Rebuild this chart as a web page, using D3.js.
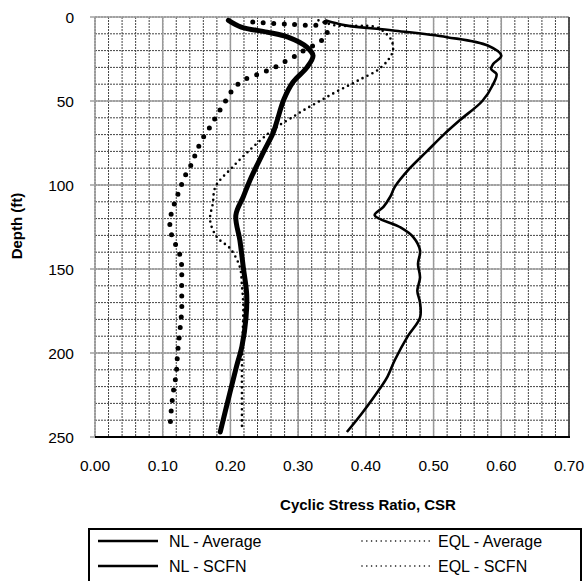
<!DOCTYPE html>
<html>
<head>
<meta charset="utf-8">
<script src="https://cdn.jsdelivr.net/npm/d3@7"></script>
<style>
  body { margin: 0; background: #fff; }
  text { font-family: "Liberation Sans", Arial, sans-serif; }
</style>
</head>
<body>
<div id="chart-area"></div>
<script>
// Datos (profundidad en ft, CSR)
var nlAvgDepth = [2, 5, 8, 12, 17, 23, 28, 31, 34, 40, 50, 61, 70, 80, 90, 101, 107, 113, 118, 125, 131, 139, 147, 155, 163, 170, 179, 190, 204, 214, 221, 236, 247];
var nlAvgCsr   = [0.34, 0.37, 0.44, 0.52, 0.58, 0.60, 0.588, 0.585, 0.593, 0.588, 0.572, 0.54, 0.515, 0.49, 0.465, 0.443, 0.436, 0.426, 0.413, 0.45, 0.47, 0.48, 0.477, 0.48, 0.476, 0.48, 0.48, 0.462, 0.443, 0.432, 0.421, 0.394, 0.372];

var nlScfnDepth = [2, 6, 9, 12, 18, 23, 30, 39, 49, 63, 69, 81, 97, 107, 118, 133, 149, 165, 179, 196, 208, 224, 247];
var nlScfnCsr   = [0.197, 0.216, 0.254, 0.285, 0.313, 0.322, 0.313, 0.292, 0.279, 0.268, 0.263, 0.248, 0.229, 0.219, 0.208, 0.214, 0.219, 0.224, 0.223, 0.217, 0.209, 0.199, 0.185];

var eqlAvgDepth = [2, 5, 6, 10, 14, 20, 26, 32, 36, 40, 45, 50, 55, 60, 65, 70, 79, 89, 101, 111, 121, 131, 138, 149, 160, 172, 190, 210, 230, 245];
var eqlAvgCsr   = [0.33, 0.355, 0.415, 0.43, 0.438, 0.44, 0.432, 0.416, 0.397, 0.378, 0.354, 0.332, 0.31, 0.29, 0.27, 0.254, 0.229, 0.204, 0.178, 0.174, 0.17, 0.18, 0.2, 0.214, 0.217, 0.219, 0.218, 0.217, 0.217, 0.217];

var eqlScfnDepth = [3, 4.2, 4.8, 3, 11, 15, 21, 24.4, 27.5, 30.5, 33, 35, 37.5, 41.5, 46.4, 52, 57, 62.7, 68, 73, 79, 85, 90.5, 96, 102, 108, 114, 120, 126, 132, 138, 144, 150, 162, 175, 188, 200, 212, 225, 237, 244];
var eqlScfnCsr   = [0.233, 0.282, 0.328, 0.34, 0.342, 0.331, 0.304, 0.291, 0.276, 0.263, 0.248, 0.235, 0.22, 0.207, 0.198, 0.19, 0.182, 0.174, 0.166, 0.158, 0.151, 0.145, 0.139, 0.131, 0.126, 0.12, 0.115, 0.111, 0.111, 0.115, 0.122, 0.127, 0.128, 0.128, 0.128, 0.125, 0.122, 0.12, 0.115, 0.112, 0.111];

var xTicks = [0, 0.1, 0.2, 0.3, 0.4, 0.5, 0.6, 0.7];
var yTicks = [0, 50, 100, 150, 200, 250];
var legendLabels = ["NL - Average", "EQL - Average", "NL - SCFN", "EQL - SCFN"];

var W = 586, H = 581;
var pLeft = 95, pRight = 569, pTop = 17, pBottom = 437;

var svg = d3.select("#chart-area").append("svg")
    .attr("width", W)
    .attr("height", H);

var x = d3.scaleLinear().domain([0, 0.7]).range([pLeft, pRight]);
var y = d3.scaleLinear().domain([0, 250]).range([pTop, pBottom]);

// Rejilla menor (discontinua)
d3.range(0, 0.7001, 0.02).forEach(function(v) {
    svg.append("line")
        .attr("x1", x(v)).attr("x2", x(v))
        .attr("y1", pTop).attr("y2", pBottom)
        .attr("stroke", "#444").attr("stroke-width", 1)
        .attr("stroke-dasharray", "2,1");
});
d3.range(0, 250.1, 10).forEach(function(v) {
    svg.append("line")
        .attr("x1", pLeft).attr("x2", pRight)
        .attr("y1", y(v)).attr("y2", y(v))
        .attr("stroke", "#444").attr("stroke-width", 1)
        .attr("stroke-dasharray", "2,1");
});

// Rejilla mayor
xTicks.forEach(function(v) {
    svg.append("line")
        .attr("x1", x(v)).attr("x2", x(v))
        .attr("y1", pTop).attr("y2", pBottom)
        .attr("stroke", "#999").attr("stroke-width", 1.5);
});
yTicks.forEach(function(v) {
    svg.append("line")
        .attr("x1", pLeft - 5).attr("x2", pRight)
        .attr("y1", y(v)).attr("y2", y(v))
        .attr("stroke", "#a0a0a0").attr("stroke-width", 1.5);
});

// Bordes
svg.append("line").attr("x1", pRight).attr("x2", pRight).attr("y1", pTop).attr("y2", pBottom)
    .attr("stroke", "#333").attr("stroke-width", 1.5);
svg.append("line").attr("x1", pLeft).attr("x2", pRight + 1).attr("y1", pBottom).attr("y2", pBottom)
    .attr("stroke", "#000").attr("stroke-width", 2);

// Etiquetas de ejes
svg.selectAll("text.xtick").data(xTicks).enter().append("text")
    .attr("class", "xtick")
    .attr("x", d => x(d)).attr("y", 471)
    .attr("text-anchor", "middle").attr("font-size", "15.5px").attr("fill", "#000")
    .text(d => d.toFixed(2));

svg.selectAll("text.ytick").data(yTicks).enter().append("text")
    .attr("class", "ytick")
    .attr("x", 74).attr("y", d => y(d) + 5.5)
    .attr("text-anchor", "end").attr("font-size", "15.5px").attr("fill", "#000")
    .text(d => d);

svg.append("text")
    .attr("x", 368).attr("y", 510)
    .attr("text-anchor", "middle").attr("font-size", "15px").attr("font-weight", "bold")
    .text("Cyclic Stress Ratio, CSR");

svg.append("text")
    .attr("transform", "translate(22,226) rotate(-90)")
    .attr("text-anchor", "middle").attr("font-size", "15px").attr("font-weight", "bold")
    .text("Depth (ft)");

// Series
var line = d3.line()
    .x(d => x(d[1]))
    .y(d => y(d[0]))
    .curve(d3.curveCatmullRom.alpha(0.5));

var series = [
    { depth: eqlAvgDepth, csr: eqlAvgCsr, width: 2.6, dash: "0,5.5", cap: "round" },
    { depth: eqlScfnDepth, csr: eqlScfnCsr, width: 5, dash: "0,10.5", cap: "round" },
    { depth: nlAvgDepth, csr: nlAvgCsr, width: 2.6, dash: null, cap: "butt" },
    { depth: nlScfnDepth, csr: nlScfnCsr, width: 5, dash: null, cap: "round" }
];

series.forEach(function(s) {
    var pts = s.depth.map((d, i) => [d, s.csr[i]]);
    svg.append("path")
        .attr("d", line(pts))
        .attr("fill", "none")
        .attr("stroke", "#000")
        .attr("stroke-width", s.width)
        .attr("stroke-linecap", s.cap)
        .attr("stroke-linejoin", "round")
        .attr("stroke-dasharray", s.dash);
});

// Leyenda
svg.append("rect")
    .attr("x", 89).attr("y", 529)
    .attr("width", 492).attr("height", 60)
    .attr("fill", "#fff").attr("stroke", "#000").attr("stroke-width", 2);

var legendPos = [[98, 541], [362, 541], [98, 566], [362, 566]];
legendLabels.forEach(function(lbl, i) {
    var p = legendPos[i];
    var dotted = lbl.indexOf("EQL") === 0;
    svg.append("line")
        .attr("x1", p[0]).attr("x2", p[0] + (dotted ? 68 : 60))
        .attr("y1", p[1]).attr("y2", p[1])
        .attr("stroke", "#000")
        .attr("stroke-width", dotted ? 1.6 : 2.5)
        .attr("stroke-linecap", dotted ? "round" : "butt")
        .attr("stroke-dasharray", dotted ? "0,4.8" : null);
    svg.append("text")
        .attr("x", p[0] + (dotted ? 76 : 71)).attr("y", p[1] + 5.5)
        .attr("font-size", "16px").attr("fill", "#000")
        .text(lbl);
});
</script>
</body>
</html>
